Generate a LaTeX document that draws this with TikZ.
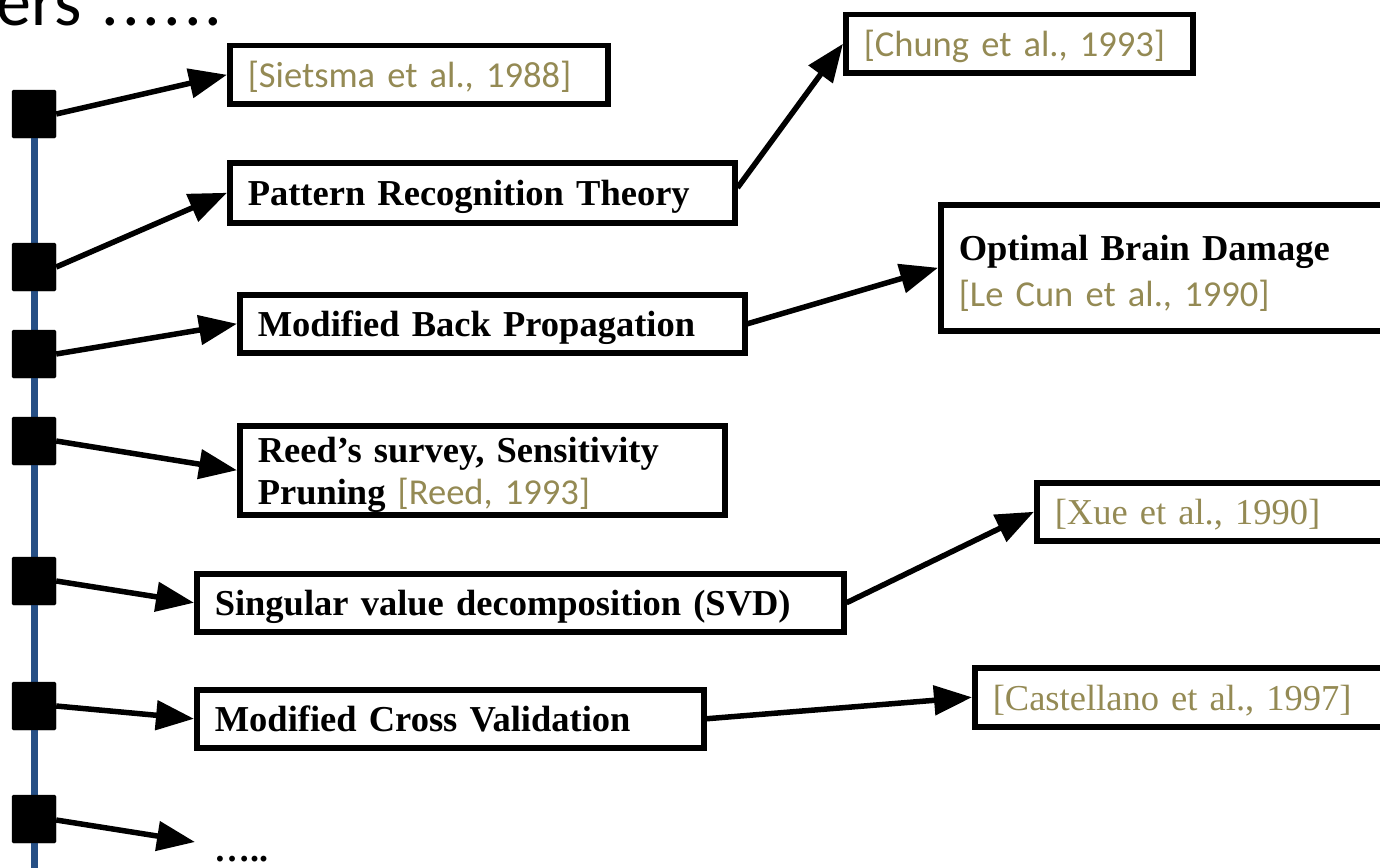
\documentclass[tikz,border=0pt]{standalone}
\usepackage{fontspec}
\setmainfont{Liberation Serif}
\newfontfamily\citefont{Carlito}
\usetikzlibrary{arrows.meta}
\definecolor{citeolive}{HTML}{948A54}
\definecolor{timeline}{RGB}{38,79,133}
% citation in the sans face / in the serif face
\newcommand\refsans[1]{{\citefont\mdseries\color{citeolive}#1}}
\newcommand\refserif[1]{{\mdseries\color{citeolive}#1}}

\begin{document}
\begin{tikzpicture}[x=1pt,y=-1pt,
  box/.style={draw, line width=5.5pt, anchor=north west, inner xsep=18pt,
    inner ysep=0pt, align=left, text height=34pt, text depth=8pt,
    font=\bfseries\fontsize{36.5}{42}\selectfont},
  tick/.style={fill=black, minimum width=44pt, minimum height=48pt,
    inner sep=0pt, rounded corners=1.5pt},
  link/.style={line width=5.5pt, -{Triangle[length=38pt,width=29pt]}},
  rail/.style={timeline, line width=7pt}
]
\useasboundingbox (0,0) rectangle (1380,867);
\clip (0,0) rectangle (1380,867);

% heading, cut at the top edge
\node[anchor=base west, inner sep=0pt, font=\citefont\fontsize{70}{70}\selectfont]
  (title) at (-4,26) {ers\hspace{20pt}.\kern3pt.\kern3pt.\kern3pt.\kern3pt.\kern3pt.};

% timeline with its markers
\coordinate (railend) at (34,880);
\node[tick] (s1) at (34,114) {};
\node[tick] (s2) at (34,267) {};
\node[tick] (s3) at (34,354) {};
\node[tick] (s4) at (34,441) {};
\node[tick] (s5) at (34,581) {};
\node[tick] (s6) at (34,706) {};
\node[tick] (s7) at (34,819) {};
\draw[rail] (s1.center) -- (railend);
\foreach \s in {s1,s2,s3,s4,s5,s6,s7}
  \fill[rounded corners=1.5pt] (\s.south west) rectangle (\s.north east);

% boxes
\node[box, minimum width=378pt, minimum height=58pt, text width=342pt] (sietsma) at (227,43)
  {\refsans{[Sietsma et al., 1988]}};
\node[box, minimum width=347pt, minimum height=58pt, text width=311pt] (chung) at (843,12)
  {\refsans{[Chung et al., 1993]}};
\node[box, minimum width=505pt, minimum height=60pt, text width=469pt] (pattern) at (227,160)
  {Pattern Recognition Theory};
\node[box, minimum width=500pt, minimum height=126pt, text width=464pt, text depth=49pt] (obd) at (938,202)
  {Optimal Brain Damage\\[4pt]\refsans{[Le Cun et al., 1990]}};
\node[box, minimum width=505pt, minimum height=58pt, text width=469pt] (backprop) at (237,292)
  {Modified Back Propagation};
\node[box, minimum width=485pt, minimum height=89pt, text width=449pt, text depth=50pt] (reed) at (237,423)
  {Reed’s survey, Sensitivity\\Pruning \refsans{[Reed, 1993]}};
\node[box, minimum width=400pt, minimum height=58pt, text width=364pt] (xue) at (1034,480)
  {\refserif{[Xue et al., 1990]}};
\node[box, minimum width=647pt, minimum height=58pt, text width=611pt] (svd) at (194,571)
  {Singular value decomposition (SVD)};
\node[box, minimum width=450pt, minimum height=59pt, text width=414pt] (castellano) at (972,665)
  {\refserif{[Castellano et al., 1997]}};
\node[box, minimum width=507pt, minimum height=58pt, text width=471pt] (mcv) at (194,687)
  {Modified Cross Validation};

\node[anchor=base west, inner sep=0pt, font=\bfseries\fontsize{36}{42}\selectfont]
  (more) at (214,861) {…..};
\coordinate (moretip) at (195,842);

% connectors
\draw[link] (s1.east) -- (sietsma.west);
\draw[link] (s2.east) -- (pattern.west);
\draw[link] ([yshift=5pt]pattern.east) -- (chung.west);
\draw[link] (s3.east) -- (backprop.west);
\draw[link] (backprop.east) -- (obd.west);
\draw[link] (s4.east) -- (reed.west);
\draw[link] (s5.east) -- (svd.west);
\draw[link] (svd.east) -- (xue.west);
\draw[link] (s6.east) -- (mcv.west);
\draw[link] (mcv.east) -- (castellano.west);
\draw[link] ([yshift=-1pt]s7.east) -- (moretip);
\end{tikzpicture}
\end{document}
